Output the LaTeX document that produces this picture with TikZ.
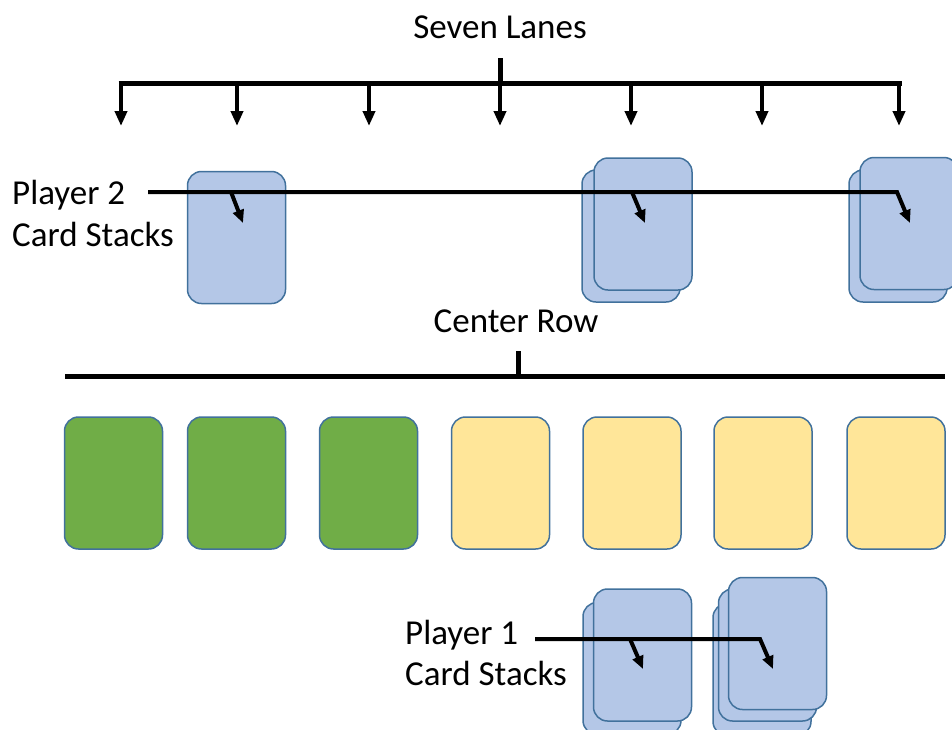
\documentclass[tikz,border=0pt]{standalone}
\usepackage{fontspec}
\setmainfont{Carlito}
\usetikzlibrary{arrows.meta}
\definecolor{cardblue}{HTML}{B4C7E7}
\definecolor{cardgreen}{HTML}{70AD47}
\definecolor{cardyellow}{HTML}{FFE699}
\definecolor{cardedge}{HTML}{41719C}
\tikzset{
  cardbox/.style={draw=cardedge,line width=1.5pt,rounded corners=14pt,
    minimum width=98pt,minimum height=132pt,inner sep=0pt},
  thickbar/.style={line width=5pt},
  lanearrow/.style={line width=4pt,-{Triangle[width=12pt,length=15pt]}},
  stackarrow/.style={line width=4pt,-{Triangle[width=11pt,length=13pt]}},
  label/.style={font=\fontsize{35}{40}\selectfont,inner sep=0pt}
}
\begin{document}
\begin{tikzpicture}[x=1pt,y=-1pt]
    \useasboundingbox (0,0) rectangle (952,729);
    \clip (0,0) rectangle (952,729);

    \node[label,anchor=base] (lanestitle) at (500,38) {Seven Lanes};
    \coordinate (lanestub) at (500,58);
    \foreach \x [count=\i] in {121,237,369,500,631,762,899} {
      \coordinate (bar\i) at (\x,83);
      \coordinate (lane\i) at (\x,126);
    }
    \draw[thickbar] (lanestub) -- (bar4);
    \draw[thickbar] ([xshift=-2.5pt]bar1) -- ([xshift=2.5pt]bar7);
    \foreach \i in {1,...,7}
      \draw[lanearrow] (bar\i) -- (lane\i);

    % player 2
    \node[cardbox,fill=cardblue] (p2card1) at (236.5,237.5) {};
    \node[cardbox,fill=cardblue] (p2card2b) at (631,236) {};
    \node[cardbox,fill=cardblue] (p2card2) at (643,224) {};
    \node[cardbox,fill=cardblue] (p2card3b) at (898,236) {};
    \node[cardbox,fill=cardblue] (p2card3) at (909,223.5) {};

    \node[label,anchor=base west] (p2line1) at (12,204) {Player 2};
    \node[label,anchor=base west] (p2line2) at (12,246) {Card Stacks};
    \coordinate (p2start) at (148,192);
    \coordinate (p2knee1) at (231,192);
    \coordinate (p2knee2) at (632,192);
    \coordinate (p2knee3) at (897,192);
    \coordinate (p2tip1) at (243,223);
    \coordinate (p2tip2) at (645,223);
    \coordinate (p2tip3) at (910,223);
    \draw[stackarrow] (p2start) -- (p2knee3) -- (p2tip3);
    \draw[stackarrow] (p2knee1) -- (p2tip1);
    \draw[stackarrow] (p2knee2) -- (p2tip2);

    % center row
    \node[label,anchor=base] (rowtitle) at (516,332) {Center Row};
    \coordinate (rowstub) at (518,351);
    \coordinate (rowmid) at (518,376);
    \coordinate (rowleft) at (65,376);
    \coordinate (rowright) at (945,376);
    \draw[thickbar] (rowstub) -- (rowmid);
    \draw[thickbar] (rowleft) -- (rowright);

    \node[cardbox,fill=cardgreen] (row1) at (113.5,483) {};
    \node[cardbox,fill=cardgreen] (row2) at (236.5,483) {};
    \node[cardbox,fill=cardgreen] (row3) at (368.5,483) {};
    \node[cardbox,fill=cardyellow] (row4) at (500.5,483) {};
    \node[cardbox,fill=cardyellow] (row5) at (632,483) {};
    \node[cardbox,fill=cardyellow] (row6) at (763,483) {};
    \node[cardbox,fill=cardyellow] (row7) at (896,483) {};

    % player 1
    \node[cardbox,fill=cardblue] (p1card1b) at (632,668.5) {};
    \node[cardbox,fill=cardblue] (p1card1) at (642.5,655) {};
    \node[cardbox,fill=cardblue] (p1card2c) at (762,669.5) {};
    \node[cardbox,fill=cardblue] (p1card2b) at (767.5,655) {};
    \node[cardbox,fill=cardblue] (p1card2) at (777.5,643.5) {};

    \node[label,anchor=base west] (p1line1) at (405,644) {Player 1};
    \node[label,anchor=base west] (p1line2) at (405,685) {Card Stacks};
    \coordinate (p1start) at (535,639);
    \coordinate (p1knee1) at (630,639);
    \coordinate (p1knee2) at (760,639);
    \coordinate (p1tip1) at (643,669);
    \coordinate (p1tip2) at (773,669);
    \draw[stackarrow] (p1start) -- (p1knee2) -- (p1tip2);
    \draw[stackarrow] (p1knee1) -- (p1tip1);
\end{tikzpicture}
\end{document}
